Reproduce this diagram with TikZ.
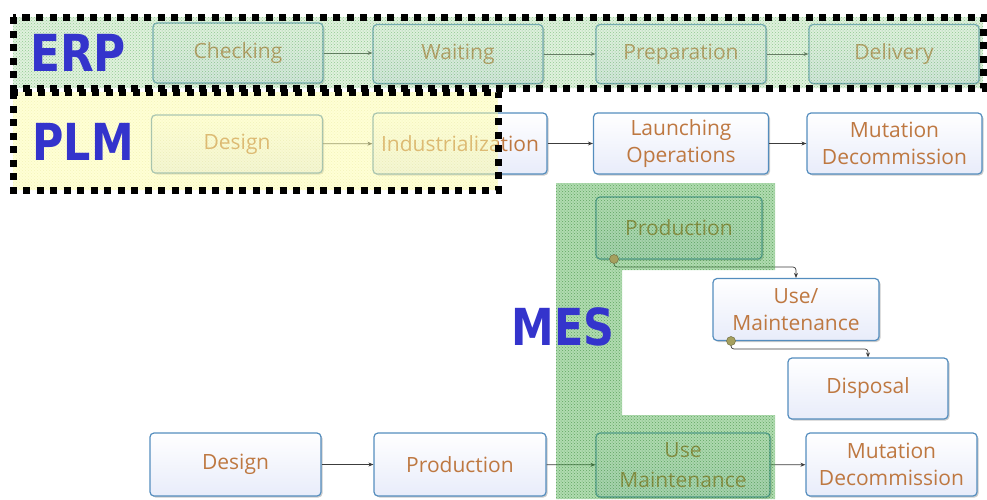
\documentclass[tikz,border=0pt]{standalone}
\usepackage{fontspec}
\usepackage{graphicx}
\setmainfont{Open Sans}
\newfontfamily\labfont{DejaVu Sans}
\usetikzlibrary{arrows.meta,shadows,patterns}
\definecolor{txt}{RGB}{190,120,65}
\definecolor{bord}{RGB}{84,141,190}
\definecolor{boxbot}{RGB}{232,236,250}
\definecolor{labblue}{RGB}{52,52,204}
\definecolor{erpg}{RGB}{175,220,170}
\definecolor{mesg}{RGB}{80,175,80}
\definecolor{plmy}{RGB}{255,255,170}
\definecolor{dotc}{RGB}{165,160,95}
\definecolor{arrc}{RGB}{60,60,60}
\tikzset{
 box/.style={draw=bord, line width=1.2pt, rounded corners=4pt, top color=white, bottom color=boxbot,
   text=txt, font=\fontsize{21}{27}\selectfont, align=center, inner sep=0pt,
   drop shadow={shadow xshift=1.5pt, shadow yshift=-1.5pt, opacity=0.2, fill=black}},
 arr/.style={draw=arrc, line width=0.7pt, -{Stealth[length=5pt,width=4pt]}},
 dashbord/.style={draw=black, line width=7pt, dash pattern=on 7pt off 6.5pt},
 lab/.style={text=labblue, font=\labfont\bfseries\fontsize{51}{51}\selectfont, inner sep=0pt},
 handle/.style={fill=dotc, draw=dotc!70!black, line width=0.5pt}
}
\begin{document}
\begin{tikzpicture}[x=1pt,y=-1pt]
\useasboundingbox (0,0) rectangle (987,499);
% ERP row
\node[box, minimum width=170pt, minimum height=60pt] (chk) at (238,53) {Checking};
\node[box, minimum width=170pt, minimum height=59pt] (wai) at (458,54) {Waiting};
\node[box, minimum width=170pt, minimum height=59pt] (pre) at (681,54) {Preparation};
\node[box, minimum width=170pt, minimum height=59pt] (del) at (894,54) {Delivery};
\draw[arr] (chk.east) -- (wai.west |- chk.east);
\draw[arr] (wai) -- (pre);
\draw[arr] (pre) -- (del);
% PLM row
\node[box, minimum width=171pt, minimum height=58pt] (pdes) at (237,144) {Design};
\node[box, minimum width=174pt, minimum height=61pt] (pind) at (460,143.5) {Industrialization};
\node[box, minimum width=175pt, minimum height=61pt] (plau) at (681,143.5) {Launching\\Operations};
\node[box, minimum width=175pt, minimum height=61pt] (pmut) at (894.5,143.5) {Mutation\\Decommission};
\draw[arr] (pdes) -- (pind);
\draw[arr] (pind) -- (plau);
\draw[arr] (plau) -- (pmut);
% MES boxes
\node[box, minimum width=166pt, minimum height=62pt] (mpro) at (679,228) {Production};
\node[box, minimum width=166pt, minimum height=62pt] (muse) at (796,309.5) {Use/\\Maintenance};
\node[box, minimum width=160pt, minimum height=61pt] (mdis) at (868,388.5) {Disposal};
\coordinate (h1) at (614,259);
\coordinate (h2) at (731,341);
\draw[arr, rounded corners=3pt] (h1) -- ++(0,8) -| (muse.north);
\draw[arr, rounded corners=3pt] (h2) -- ++(0,8) -| (mdis.north);
% bottom row
\node[box, minimum width=171pt, minimum height=63pt] (bdes) at (235.5,464.5) {Design};
\node[box, minimum width=172pt, minimum height=63pt] (bpro) at (460,464.5) {Production};
\node[box, minimum width=174pt, minimum height=64pt, font=\fontsize{21}{30}\selectfont] (buse) at (683,465) {Use\\Maintenance};
\node[box, minimum width=171pt, minimum height=63pt] (bmut) at (891.5,464.5) {Mutation\\Decommission};
\draw[arr] (bdes) -- (bpro);
\draw[arr] (bpro) -- (buse);
\draw[arr] (buse) -- (bmut);
% overlays
\fill[erpg, opacity=0.4] (13,17) rectangle (983,88);
\fill[pattern=crosshatch dots, pattern color=green!50!black, opacity=0.35] (13,17) rectangle (983,88);
\fill[plmy, opacity=0.5] (13,92) rectangle (498,190);
\fill[pattern=crosshatch dots, pattern color=yellow!60!black, opacity=0.12] (13,92) rectangle (498,190);
\fill[mesg, opacity=0.45] (556,183) -- (775,183) -- (775,270) -- (622,270) -- (622,415) -- (775,415) -- (775,499) -- (556,499) -- cycle;
\fill[pattern=crosshatch dots, pattern color=green!40!black, opacity=0.45] (556,183) -- (775,183) -- (775,270) -- (622,270) -- (622,415) -- (775,415) -- (775,499) -- (556,499) -- cycle;
\fill[handle] (h1) circle (4.5pt);
\fill[handle] (h2) circle (4.5pt);
% borders
\draw[dashbord] (13,17) rectangle (983,88);
\draw[dashbord] (13,92) rectangle (498,190);
% labels
\node[lab] (erp) at (78,53) {\scalebox{0.86}[1]{ERP}};
\node[lab] (plm) at (83,142) {\scalebox{0.84}[1]{PLM}};
\node[lab] (mes) at (563,327) {\scalebox{0.84}[1]{MES}};
\end{tikzpicture}
\end{document}
